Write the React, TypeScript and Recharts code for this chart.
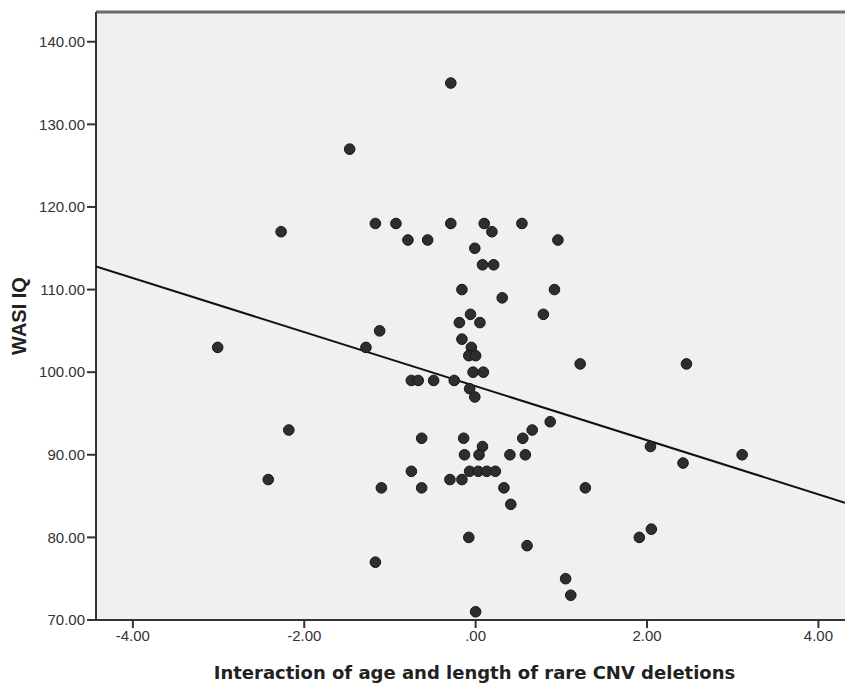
import { ScatterChart, Scatter, XAxis, YAxis, CartesianGrid, ReferenceLine, Label } from "recharts";

// interaction score (x) and WASI IQ (y)
const interaction = [
  -0.29, -1.47, -2.27, -1.17, -0.93, -0.79, -0.56, -0.29, 0.1, 0.19,
  0.54, 0.96, -0.01, 0.08, 0.21, -0.16, 0.92, 0.31, -0.06, 0.79,
  -0.19, 0.05, -1.12, -0.16, -1.28, -0.05, -0.08, 0.0, -0.03, 0.09,
  1.22, -0.75, -0.67, -0.49, -0.25, -0.07, -0.01, 0.87, -2.18, 0.66,
  -0.63, -0.14, 0.55, 0.08, -0.13, 0.04, 0.4, 0.58, -0.75, -0.07,
  0.03, 0.13, 0.23, -2.42, -0.3, -0.16, -1.1, -0.63, 0.33, 1.28,
  0.41, -0.08, 0.6, -1.17, 1.05, 1.11, 0.0, -3.01, 2.46, 2.04,
  2.42, 3.11, 2.05, 1.91
];
const wasiIQ = [
  135, 127, 117, 118, 118, 116, 116, 118, 118, 117,
  118, 116, 115, 113, 113, 110, 110, 109, 107, 107,
  106, 106, 105, 104, 103, 103, 102, 102, 100, 100,
  101, 99, 99, 99, 99, 98, 97, 94, 93, 93,
  92, 92, 92, 91, 90, 90, 90, 90, 88, 88,
  88, 88, 88, 87, 87, 87, 86, 86, 86, 86,
  84, 80, 79, 77, 75, 73, 71, 103, 101, 91,
  89, 90, 81, 80
];

// fit line end points at the plot edges
const fitX = [-4.43, 4.31];
const fitY = [112.8, 84.2];

const xTicks = [-4, -2, 0, 2, 4];
const yTicks = [70, 80, 90, 100, 110, 120, 130, 140];
const xDomain: [number, number] = [-4.43, 4.31];
const yDomain: [number, number] = [70, 143.6];

const points = interaction.map((x, i) => ({ x, y: wasiIQ[i] }));
const fitLine = fitX.map((x, i) => ({ x, y: fitY[i] }));

const fmtX = (v: number) => (v === 0 ? ".00" : v.toFixed(2));
const fmtY = (v: number) => v.toFixed(2);

const Dot = (props: any) => (
  <circle cx={props.cx} cy={props.cy} r={5.3} fill="#2e2e2e" stroke="#151515" strokeWidth={1} />
);

export default function App() {
  const font = "'Liberation Sans', Arial, sans-serif";
  return (
    <div style={{ position: "absolute", left: 0, top: 0, width: 845, height: 684, background: "#fff" }}>
      <ScatterChart width={845} height={684} margin={{ top: 12, right: 0, bottom: 0, left: 0 }}>
        <CartesianGrid fill="#f0f0f0" horizontal={false} vertical={false} />
        <XAxis
          type="number"
          dataKey="x"
          domain={xDomain}
          ticks={xTicks}
          allowDataOverflow
          tickFormatter={fmtX}
          height={64}
          stroke="#333"
          strokeWidth={2}
          tickSize={8}
          tick={{ fill: "#333", fontSize: 15, fontFamily: font }}
        >
          <Label
            value="Interaction of age and length of rare CNV deletions"
            position="insideBottom"
            offset={5}
            dx={4}
            style={{ fontFamily: "'DejaVu Sans', Verdana, sans-serif", fontWeight: "bold", fontSize: 18, fill: "#222" }}
          />
        </XAxis>
        <YAxis
          type="number"
          dataKey="y"
          domain={yDomain}
          ticks={yTicks}
          allowDataOverflow
          tickFormatter={fmtY}
          width={96}
          stroke="#333"
          strokeWidth={2}
          tickSize={9}
          tick={{ fill: "#333", fontSize: 15, fontFamily: font }}
        >
          <Label
            value="WASI IQ"
            angle={-90}
            position="insideLeft"
            offset={19}
            style={{ textAnchor: "middle", fontFamily: font, fontWeight: "bold", fontSize: 20, fill: "#222" }}
          />
        </YAxis>
        <ReferenceLine y={yDomain[1]} stroke="#6a6a6a" strokeWidth={3} ifOverflow="visible" />
        <Scatter
          data={fitLine}
          line={{ stroke: "#111", strokeWidth: 2 }}
          shape={() => <g />}
          isAnimationActive={false}
          legendType="none"
        />
        <Scatter data={points} shape={Dot} isAnimationActive={false} />
      </ScatterChart>
    </div>
  );
}
